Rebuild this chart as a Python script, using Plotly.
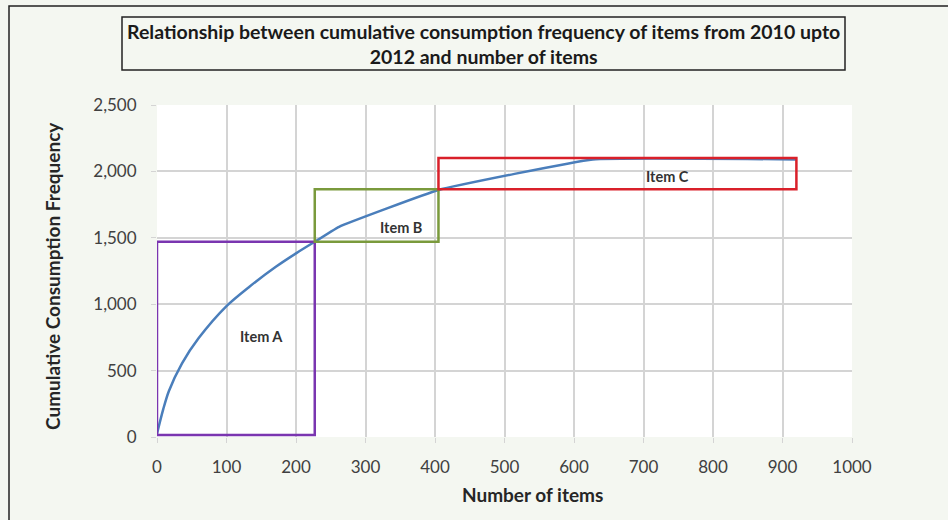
import plotly.graph_objects as go

# Cumulative consumption frequency (2010-2012) against number of items
items = [0, 9, 17, 36, 60, 100, 133, 171, 200, 227, 262, 405, 627, 920]
cum_freq = [25, 210, 345, 555, 745, 986, 1132, 1282, 1383, 1470, 1583, 1860, 2090, 2090]

# ABC classification bands
class_names = ["Item A", "Item B", "Item C"]
class_x0 = [0, 227, 405]
class_x1 = [227, 405, 920]
class_y0 = [15, 1470, 1865]
class_y1 = [1470, 1865, 2100]
class_colors = ["#7a35b0", "#7a9a3c", "#d9202a"]
label_x = [151, 351, 734]
label_y = [760, 1574, 1965]

x_ticks = list(range(0, 1001, 100))
y_ticks = list(range(0, 2501, 500))

title_text = ("Relationship between cumulative consumption frequency of items from 2010 upto"
              "<br>2012 and number of items")

W, H = 948, 520
L, R, T, B = 157, 96, 105, 83
pw, ph = W - L - R, H - T - B


def px(xp):
    return (xp - L) / pw


def py(yp):
    return (H - B - yp) / ph


FONT = "Lato"
LINE_COLOR = "#4a7ebb"
fig = go.Figure()

# curved part (class A) drawn smooth, the remainder as straight segments
split = items.index(class_x1[0])
fig.add_trace(go.Scatter(
    x=items[:split + 1], y=cum_freq[:split + 1], mode="lines",
    line=dict(color=LINE_COLOR, width=2.5, shape="spline", smoothing=0.8),
    hoverinfo="skip", showlegend=False,
))
fig.add_trace(go.Scatter(
    x=items[split:], y=cum_freq[split:], mode="lines",
    line=dict(color=LINE_COLOR, width=2.5, shape="spline", smoothing=0.3),
    hoverinfo="skip", showlegend=False,
))

shapes = []
annotations = []
for name, x0, x1, y0, y1, c, lx, ly in zip(class_names, class_x0, class_x1, class_y0,
                                           class_y1, class_colors, label_x, label_y):
    shapes.append(dict(type="rect", xref="x", yref="y", x0=x0, x1=x1, y0=y0, y1=y1,
                       line=dict(color=c, width=2.5), layer="above"))
    annotations.append(dict(x=lx, y=ly, xref="x", yref="y", text=f"<b>{name}</b>",
                            xanchor="center", yanchor="middle", showarrow=False,
                            font=dict(family=FONT, size=14.5, color="#333333")))

# outer chart frame (top and left edges)
shapes.append(dict(type="path", xref="paper", yref="paper",
                   path=f"M {px(9)} {py(530)} L {px(9)} {py(6)} L {px(960)} {py(6)}",
                   line=dict(color="#222222", width=1.5)))
# title box
shapes.append(dict(type="rect", xref="paper", yref="paper",
                   x0=px(122), x1=px(845), y0=py(70), y1=py(17),
                   line=dict(color="#222222", width=1.5), fillcolor="rgba(0,0,0,0)"))

annotations.append(dict(x=px(483.5), y=py(44), xref="paper", yref="paper",
                        xanchor="center", yanchor="middle",
                        text=f"<b>{title_text}</b>", showarrow=False, align="center",
                        font=dict(family=FONT, size=19.5, color="#1a1a1a")))
annotations.append(dict(x=px(52), y=py(276), xref="paper", yref="paper",
                        xanchor="center", yanchor="middle",
                        text="<b>Cumulative Consumption Frequency</b>", textangle=-90,
                        showarrow=False, font=dict(family=FONT, size=19, color="#262626")))
annotations.append(dict(x=px(532), y=py(494), xref="paper", yref="paper",
                        xanchor="center", yanchor="middle",
                        text="<b>Number of items</b>", showarrow=False,
                        font=dict(family=FONT, size=19, color="#262626")))

fig.update_layout(
    width=W, height=H,
    margin=dict(l=L, r=R, t=T, b=B),
    paper_bgcolor="#f4f7f1",
    plot_bgcolor="#ffffff",
    shapes=shapes,
    annotations=annotations,
    xaxis=dict(range=[0, 1000], tickvals=x_ticks, ticktext=[str(v) for v in x_ticks],
               showgrid=True, gridcolor="#d4d4d4", gridwidth=1.5, zeroline=False,
               showline=False, ticks="outside", ticklen=5, tickcolor="#d4d4d4",
               ticklabelstandoff=10, tickfont=dict(family=FONT, size=17, color="#404040")),
    yaxis=dict(range=[0, 2500], tickvals=y_ticks, ticktext=[f"{v:,}" for v in y_ticks],
               showgrid=True, gridcolor="#d4d4d4", gridwidth=1.5, zeroline=False,
               showline=False, ticks="outside", ticklen=5, tickcolor="#d4d4d4",
               ticklabelstandoff=11, tickfont=dict(family=FONT, size=17, color="#404040")),
)

fig.write_html("out.html")
